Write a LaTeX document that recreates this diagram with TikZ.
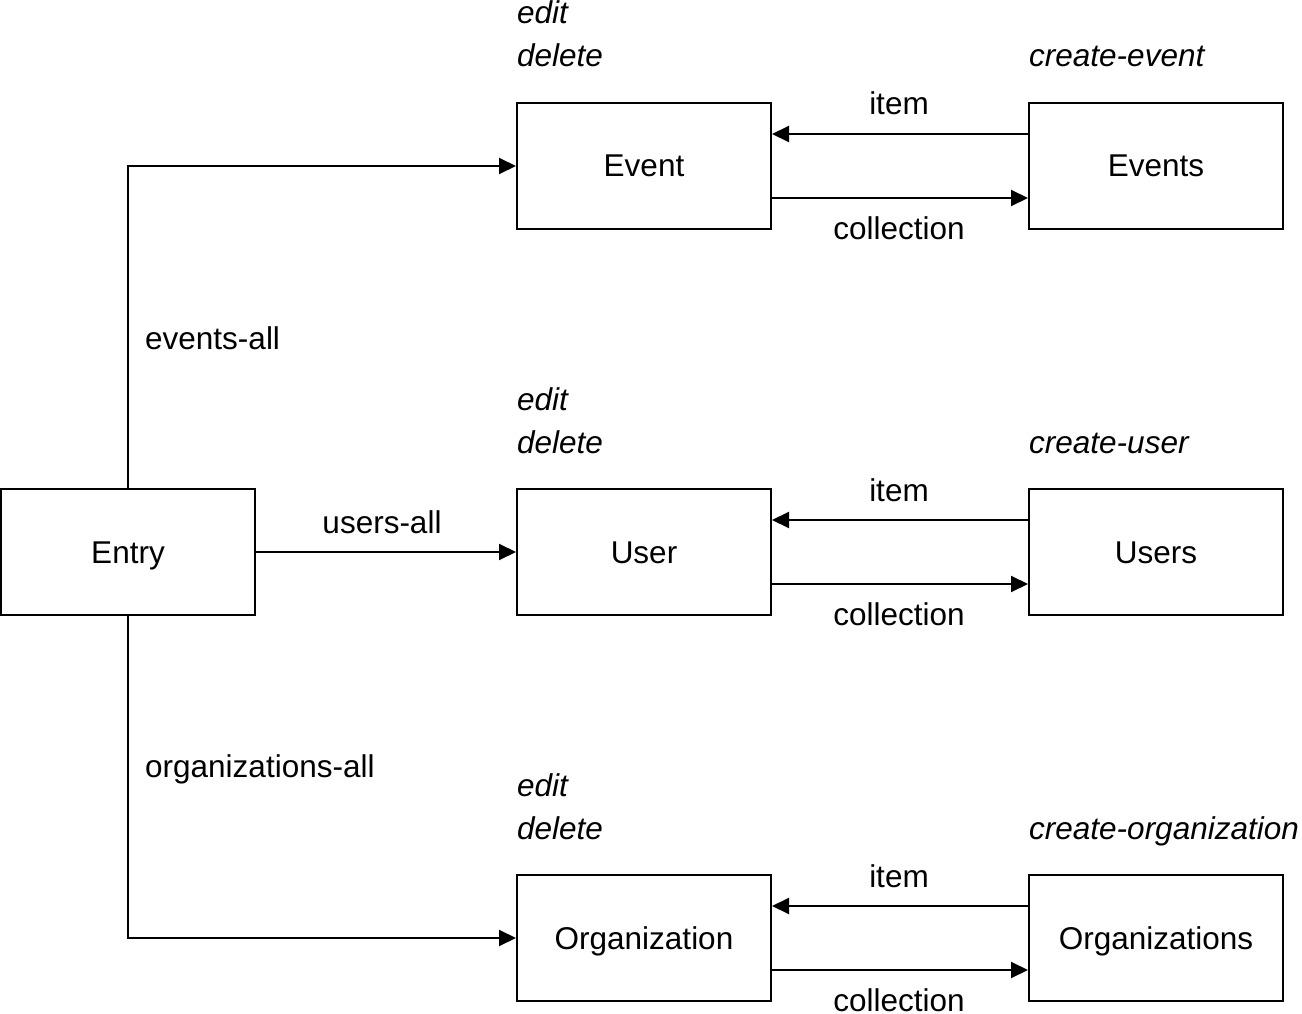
\documentclass[tikz,border=0pt]{standalone}
\usepackage{fontspec}
\setmainfont{Liberation Sans}
\usetikzlibrary{arrows.meta}
\begin{document}
\begin{tikzpicture}[x=1pt,y=-1pt,
  every node/.style={font=\fontsize{31.5}{36}\selectfont, inner sep=0pt},
  box/.style={draw, line width=2pt, minimum width=254pt, minimum height=126pt, text height=22pt, text depth=0pt},
  conn/.style={line width=2pt, -{Triangle[length=17pt,width=16pt]}},
  lbl/.style={anchor=base},
  lbll/.style={anchor=base west},
  act/.style={anchor=base west, font=\fontsize{31.5}{36}\selectfont\itshape}]
\useasboundingbox (0,0) rectangle (1302,1014);
% boxes
\node[box] (entry) at (128,552) {Entry};
\node[box] (event) at (644,166) {Event};
\node[box] (events) at (1156,166) {Events};
\node[box] (user) at (644,552) {User};
\node[box] (users) at (1156,552) {Users};
\node[box] (org) at (644,938) {Organization};
\node[box] (orgs) at (1156,938) {Organizations};
% entry connectors
\draw[conn] (entry.north) |- (event.west);
\draw[conn] (entry.east) -- (user.west);
\draw[conn] (entry.south) |- (org.west);
\node[lbll] (lea) at (145,349) {events-all};
\node[lbl] (lua) at (382,533) {users-all};
\node[lbll] (loa) at (145,777) {organizations-all};
% item / collection
\foreach \a/\b/\r in {event/events/0, user/users/386, org/orgs/772}{
  \draw[conn] ([yshift=32pt]\b.west) -- ([yshift=32pt]\a.east);
  \draw[conn] ([yshift=-32pt]\a.east) -- ([yshift=-32pt]\b.west);
  \node[lbl] (item-\a) at (899,115+\r) {item};
  \node[lbl] (coll-\a) at (899,239+\r) {collection};
  \node[act] (edit-\a) at (517,24+\r) {edit};
  \node[act] (del-\a) at (517,67+\r) {delete};
}
\node[act] (ce) at (1029,67) {create-event};
\node[act] (cu) at (1029,453) {create-user};
\node[act] (co) at (1029,839) {create-organization};
\end{tikzpicture}
\end{document}
